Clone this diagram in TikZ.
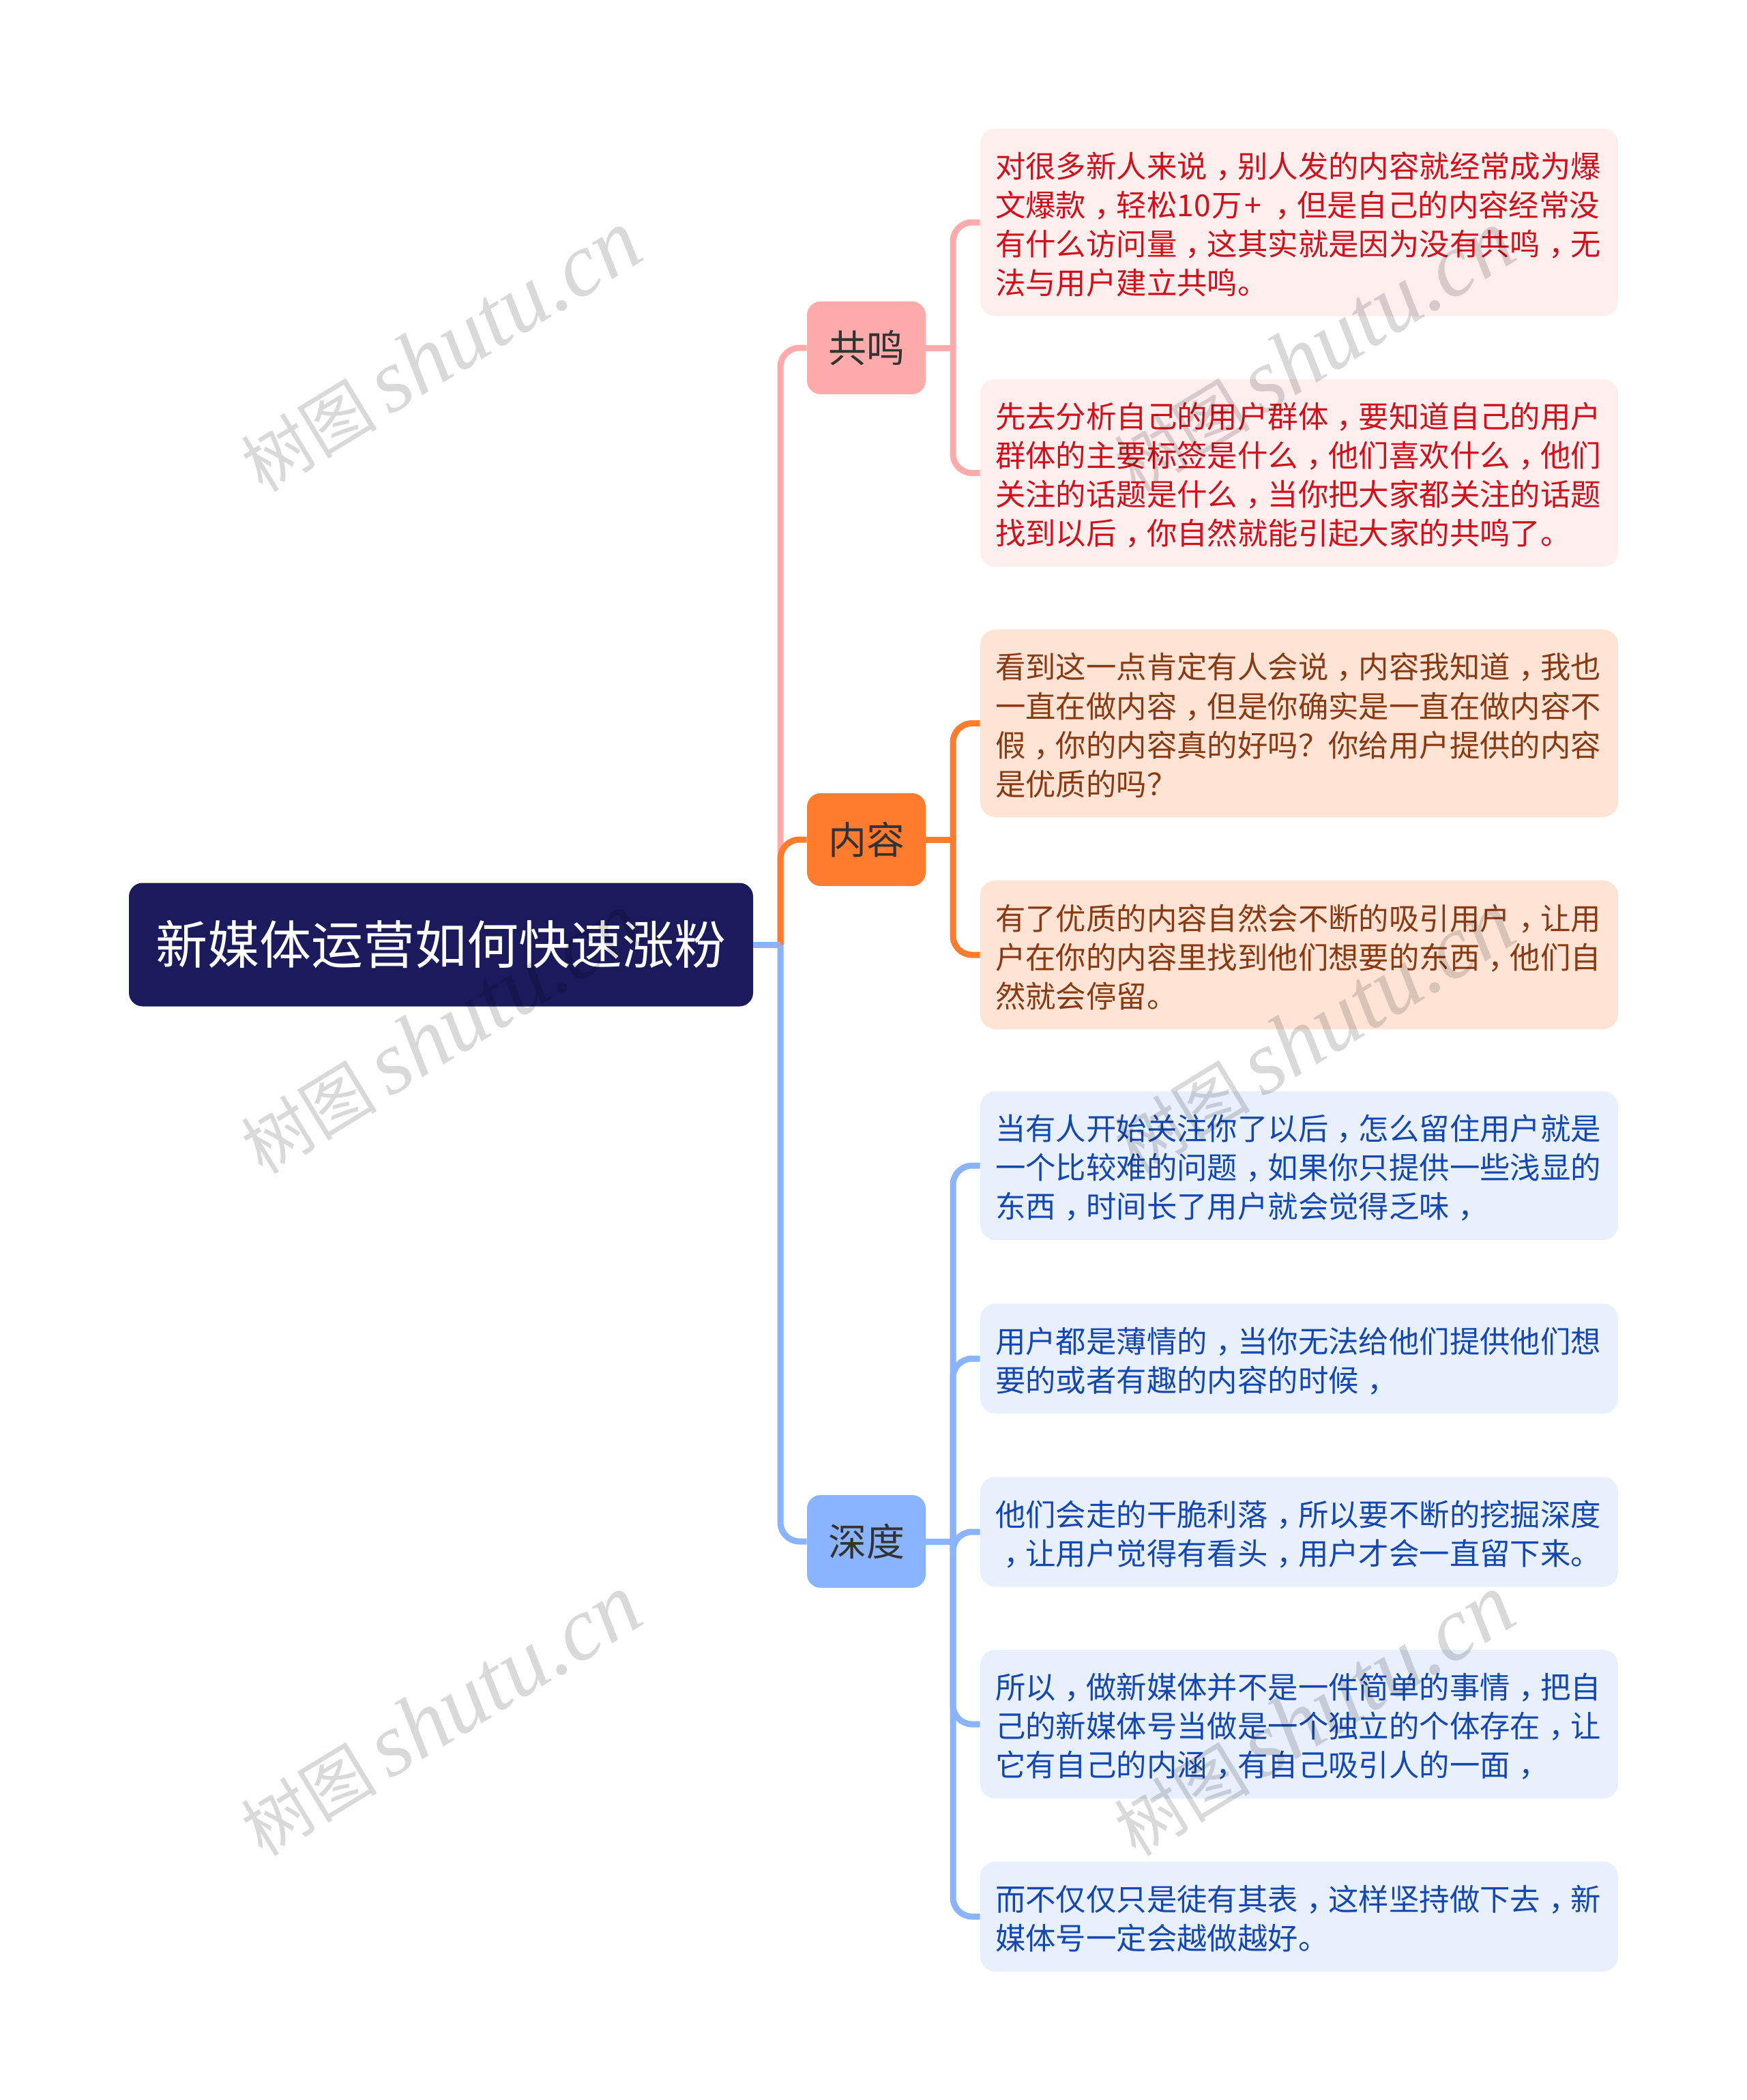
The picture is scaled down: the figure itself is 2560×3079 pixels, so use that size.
\documentclass[tikz,border=0pt]{standalone}
\usepackage{fontspec}
\setmainfont{Noto Sans CJK SC}
\newfontfamily\wmlatin{Liberation Serif}
\newfontfamily\wmcjk{Noto Sans CJK SC}
\usetikzlibrary{positioning}
\definecolor{rootfill}{HTML}{1A1A5C}
\definecolor{pinkline}{HTML}{FFABAB}
\definecolor{pinkfill}{HTML}{FEEEEE}
\definecolor{pinktext}{HTML}{D0101A}
\definecolor{orangeline}{HTML}{FF7B2E}
\definecolor{orangefill}{HTML}{FFE4D6}
\definecolor{orangetext}{HTML}{8A3A12}
\definecolor{blueline}{HTML}{8AB4FF}
\definecolor{bluefill}{HTML}{E8F0FD}
\definecolor{bluetext}{HTML}{1448B0}
\tikzset{
  rootbox/.style={fill=rootfill, text=white, rounded corners=10pt, minimum width=457.5pt, minimum height=90.5pt, inner sep=0pt, font=\fontsize{38}{46}\selectfont},
  branchbox/.style={rounded corners=10pt, minimum width=87pt, minimum height=68pt, inner sep=0pt, text=black!80, font=\fontsize{28}{34}\selectfont},
  leafbox/.style={rounded corners=11pt, minimum width=467.5pt, inner xsep=11pt, inner ysep=0pt, text width=445.5pt, align=left, font=\fontsize{22.2}{28.6}\selectfont, execute at begin node={\rule{0pt}{22pt}}},
  pinkleaf/.style={leafbox, fill=pinkfill, text=pinktext},
  orangeleaf/.style={leafbox, fill=orangefill, text=orangetext},
  blueleaf/.style={leafbox, fill=bluefill, text=bluetext},
  linkline/.style={line width=4.5pt, rounded corners=14pt},
  wmark/.style={text=black, text opacity=0.15, rotate=31.4, inner sep=0pt},
}
\newcommand{\dou}{\kern0.28em，\kern-0.28em}
\newcommand{\wmtext}{{\fontsize{50}{60}\wmcjk\selectfont 树图}\kern9pt{\fontsize{66}{60}\wmlatin\itshape\selectfont shutu.cn}}
\begin{document}
\begin{tikzpicture}[x=0.5pt,y=-0.5pt]
	%%%%% START %%%%%
	\path[fill=white, use as bounding box] (0,0) rectangle (2560,3079);

	\node[rootbox] (root) at (646.5,1385) {新媒体运营如何快速涨粉};

	\node[branchbox, fill=pinkline] (gongming) at (1270,510) {共鸣};
	\node[branchbox, fill=orangeline] (neirong) at (1270,1231) {内容};
	\node[branchbox, fill=blueline] (shendu) at (1270,2260) {深度};

	\node[pinkleaf, minimum height=137.5pt] (leafA) at (1904.5,326) {对很多新人来说\dou 别人发的内容就经常成为爆\\文爆款\dou 轻松10\kern1pt万\kern1.5pt+\kern4pt\dou 但是自己的内容经常没\\有什么访问量\dou 这其实就是因为没有共鸣\dou 无\\法与用户建立共鸣。};
	\node[pinkleaf, minimum height=137.5pt] (leafB) at (1904.5,693.5) {先去分析自己的用户群体\dou 要知道自己的用户\\群体的主要标签是什么\dou 他们喜欢什么\dou 他们\\关注的话题是什么\dou 当你把大家都关注的话题\\找到以后\dou 你自然就能引起大家的共鸣了。};

	\node[orangeleaf, minimum height=137.5pt] (leafC) at (1904.5,1060.5) {看到这一点肯定有人会说\dou 内容我知道\dou 我也\\一直在做内容\dou 但是你确实是一直在做内容不\\假\dou 你的内容真的好吗？你给用户提供的内容\\是优质的吗？};
	\node[orangeleaf, minimum height=109pt] (leafD) at (1904.5,1400) {有了优质的内容自然会不断的吸引用户\dou 让用\\户在你的内容里找到他们想要的东西\dou 他们自\\然就会停留。};

	\node[blueleaf, minimum height=109pt] (leafE) at (1904.5,1709) {当有人开始关注你了以后\dou 怎么留住用户就是\\一个比较难的问题\dou 如果你只提供一些浅显的\\东西\dou 时间长了用户就会觉得乏味\dou};
	\node[blueleaf, minimum height=80.5pt] (leafF) at (1904.5,1992) {用户都是薄情的\dou 当你无法给他们提供他们想\\要的或者有趣的内容的时候\dou};
	\node[blueleaf, minimum height=80.5pt] (leafG) at (1904.5,2246) {他们会走的干脆利落\dou 所以要不断的挖掘深度\\\mbox{}\dou 让用户觉得有看头\dou 用户才会一直留下来。};
	\node[blueleaf, minimum height=109pt] (leafH) at (1904.5,2528) {所以\dou 做新媒体并不是一件简单的事情\dou 把自\\己的新媒体号当做是一个独立的个体存在\dou 让\\它有自己的内涵\dou 有自己吸引人的一面\dou};
	\node[blueleaf, minimum height=80.5pt] (leafI) at (1904.5,2810) {而不仅仅只是徒有其表\dou 这样坚持做下去\dou 新\\媒体号一定会越做越好。};

	\coordinate (rootstem) at (1144,1385);
	\coordinate (gongstem) at (1397,510);
	\coordinate (neistem) at (1397,1231);
	\coordinate (shenstem) at (1397,2260);

	\draw[linkline, color=pinkline] (rootstem) |- (gongming.west);
	\draw[linkline, color=orangeline] (rootstem) |- (neirong.west);
	\draw[linkline, color=blueline] (rootstem) |- (shendu.west);
	\draw[linkline, color=blueline] (root.east) -- (rootstem);

	\draw[linkline, color=pinkline] (gongming.east) -- (gongstem);
	\draw[linkline, color=pinkline] (gongstem) |- (leafA.west);
	\draw[linkline, color=pinkline] (gongstem) |- (leafB.west);

	\draw[linkline, color=orangeline] (neirong.east) -- (neistem);
	\draw[linkline, color=orangeline] (neistem) |- (leafC.west);
	\draw[linkline, color=orangeline] (neistem) |- (leafD.west);

	\draw[linkline, color=blueline] (shendu.east) -- (shenstem);
	\draw[linkline, color=blueline] (shenstem) |- (leafE.west);
	\draw[linkline, color=blueline] (shenstem) |- (leafF.west);
	\draw[linkline, color=blueline] (shenstem) |- (leafG.west);
	\draw[linkline, color=blueline] (shenstem) |- (leafH.west);
	\draw[linkline, color=blueline] (shenstem) |- (leafI.west);

	\node[wmark] (markA) at (646,515) {\wmtext};
	\node[wmark] (markB) at (1926,515) {\wmtext};
	\node[wmark] (markC) at (646,1515) {\wmtext};
	\node[wmark] (markD) at (1926,1515) {\wmtext};
	\node[wmark] (markE) at (646,2515) {\wmtext};
	\node[wmark] (markF) at (1926,2515) {\wmtext};
	%%%%% END %%%%%
\end{tikzpicture}
\end{document}
